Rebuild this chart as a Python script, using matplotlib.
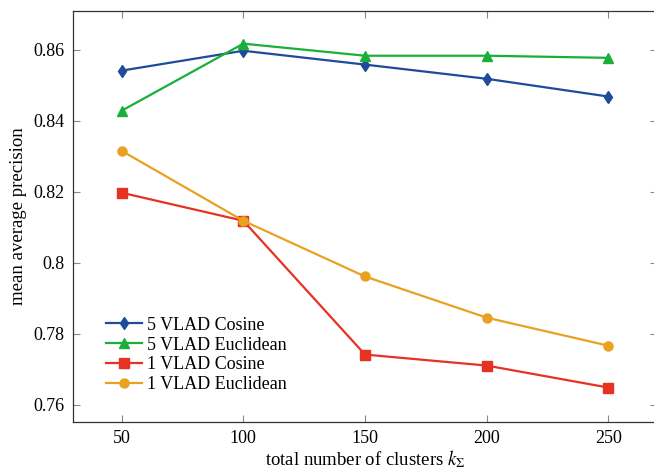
import matplotlib
matplotlib.use("Agg")
import matplotlib.pyplot as plt

plt.rcParams['font.family'] = ['Liberation Serif', 'DejaVu Serif']
plt.rcParams['mathtext.fontset'] = 'stix'

clusters = [50, 100, 150, 200, 250]
vlad5_cos = [0.8541, 0.8597, 0.8558, 0.8518, 0.8468]
vlad5_euc = [0.8428, 0.8617, 0.8583, 0.8583, 0.8577]
vlad1_cos = [0.8197, 0.8118, 0.7741, 0.7710, 0.7648]
vlad1_euc = [0.8315, 0.8118, 0.7961, 0.7845, 0.7766]
labels = ['5 VLAD Cosine', '5 VLAD Euclidean', '1 VLAD Cosine', '1 VLAD Euclidean']
colors = ['#1f4b9b', '#1aae3a', '#e63222', '#e8a121']
markers = ['d', '^', 's', 'o']

fig = plt.figure(figsize=(6.54, 4.70), dpi=100)
ax = fig.add_axes([73/654, 48/470, (657-73)/654, (422-11)/470])

for ys, lab, c, m in zip([vlad5_cos, vlad5_euc, vlad1_cos, vlad1_euc], labels, colors, markers):
    ax.plot(clusters, ys, color=c, marker=m, markersize=6.5, linewidth=1.6, label=lab)

ax.set_xlim(30, 270)
ax.set_ylim(0.7551, 0.8709)
ax.set_xticks(clusters)
ax.set_yticks([0.76, 0.78, 0.80, 0.82, 0.84, 0.86])
ax.set_yticklabels(['0.76', '0.78', '0.8', '0.82', '0.84', '0.86'])
ax.tick_params(direction='in', top=True, right=True, length=5, width=0.8, color='#888888', labelsize=13, pad=6)
for s in ax.spines.values():
    s.set_color('#333333')
    s.set_linewidth(0.9)

ax.set_xlabel(r'total number of clusters $k_\Sigma$', fontsize=13.5, labelpad=0.5)
ax.set_ylabel('mean average precision', fontsize=13.5, labelpad=5)

leg = ax.legend(loc='lower left', bbox_to_anchor=(0.035, 0.04), frameon=False, fontsize=13,
                handlelength=2.0, handletextpad=0.25, labelspacing=0.15, borderpad=0.2)

fig.savefig('out.png', dpi=100)
